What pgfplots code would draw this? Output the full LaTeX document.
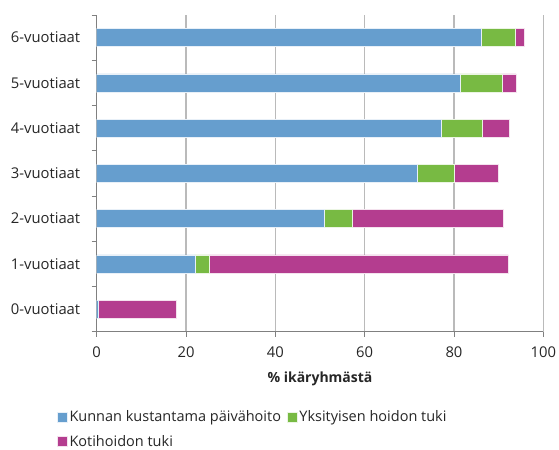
\documentclass[border=0pt]{standalone}
\usepackage{fontspec}
\setmainfont{Open Sans}
\usepackage{pgfplots}
\pgfplotsset{compat=1.18}
\definecolor{cblue}{RGB}{102,158,206}
\definecolor{cgreen}{RGB}{120,186,67}
\definecolor{cmag}{RGB}{180,61,143}
\begin{document}
\begin{tikzpicture}
\path[use as bounding box] (-96.7bp,-118.3bp) rectangle (462.3bp,331.7bp);
\begin{axis}[
  at={(0,0)}, anchor=south west,
  scale only axis, width=446.6bp, height=316.7bp,
  xbar stacked, bar width=0.4,
  xmin=0, xmax=100, ymin=-0.5, ymax=6.5,
  xtick={0,20,...,100},
  axis x line*=bottom, axis y line*=left,
  axis line style={-, draw=black!50, line width=0.9bp},
  xmajorgrids, grid style={color=black!27, line width=1.2bp},
  ytick={-0.5,0.5,...,6.5}, yticklabels={},
  extra y ticks={0,1,2,3,4,5,6},
  extra y tick labels={0-vuotiaat,1-vuotiaat,2-vuotiaat,3-vuotiaat,4-vuotiaat,5-vuotiaat,6-vuotiaat},
  extra y tick style={major tick length=0pt, yticklabel style={xshift=-13bp}},
  tick align=outside, major tick length=5bp,
  tick style={draw=black!50, line width=0.9bp},
  ticklabel style={font=\fontsize{14.8bp}{18bp}\selectfont, text=black!85},
  /pgf/number format/assume math mode=true,
  xticklabel style={yshift=-7bp},
  xlabel={\textbf{\% ikäryhmästä}},
  xlabel style={font=\fontsize{14bp}{17bp}\selectfont, text=black!85, yshift=-7bp},
  legend style={at={(-0.089,-0.243)}, anchor=north west, draw=none,
    font=\fontsize{14.5bp}{17bp}\selectfont, text=black!85,
    /tikz/every even column/.append style={column sep=4bp},
    row sep=8bp, inner sep=0pt},
  legend columns=2,
  legend cell align=left,
  legend image code/.code={\fill[#1] (0bp,-5bp) rectangle (10bp,5bp);},
]
\addplot[fill=cblue, draw=white!85!cblue, line width=0.4bp] coordinates {(0.3,0) (22.0,1) (51.0,2) (71.7,3) (77.2,4) (81.4,5) (86.1,6)};
\addplot[fill=cgreen, draw=white!85!cgreen, line width=0.4bp] coordinates {(0,0) (3.1,1) (6.2,2) (8.4,3) (9.2,4) (9.3,5) (7.6,6)};
\addplot[fill=cmag, draw=white!85!cmag, line width=0.4bp] coordinates {(17.5,0) (67.1,1) (33.8,2) (9.8,3) (6.0,4) (3.2,5) (2.0,6)};
\legend{Kunnan kustantama päivähoito,Yksityisen hoidon tuki,Kotihoidon tuki}
\end{axis}
\end{tikzpicture}
\end{document}
